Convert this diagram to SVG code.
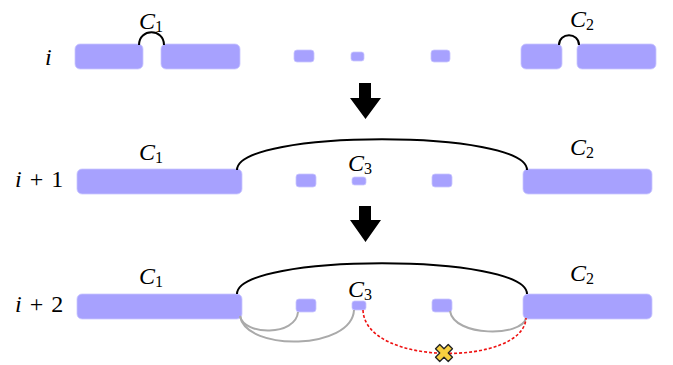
<svg xmlns="http://www.w3.org/2000/svg" width="673" height="365" viewBox="0 0 673 365">
<defs>
<style>
.blk{fill:#a7a1fe;stroke:#c9c6ff;stroke-width:0.8}
.t{font-family:"Liberation Serif","DejaVu Serif",serif;font-size:24px;fill:#000}
.it{font-style:italic}
.sub{font-size:16px}
.arc{fill:none;stroke:#000;stroke-width:2}
.gray{fill:none;stroke:#aaaaaa;stroke-width:2}
.red{fill:none;stroke:#ee1111;stroke-width:1.6;stroke-dasharray:3 2}
.arrow{fill:#000}
</style>
</defs>
<rect width="673" height="365" fill="#fff"/>

<!-- row labels -->
<g id="label-i"><text class="t it" x="45" y="65">i</text></g>
<g id="label-i1"><text class="t" x="15" y="187" word-spacing="2"><tspan class="it">i</tspan> + 1</text></g>
<g id="label-i2"><text class="t" x="15" y="312" word-spacing="2"><tspan class="it">i</tspan> + 2</text></g>

<!-- row i -->
<g id="r0-a"><rect class="blk" x="75" y="44" width="68" height="25" rx="5"/></g>
<g id="r0-b"><rect class="blk" x="161" y="44" width="79" height="25" rx="5"/></g>
<g id="r0-s1"><rect class="blk" x="294" y="50" width="20" height="12" rx="3"/></g>
<g id="r0-s2"><rect class="blk" x="351" y="52" width="13" height="9" rx="2.5"/></g>
<g id="r0-s3"><rect class="blk" x="431" y="50" width="19" height="12" rx="3"/></g>
<g id="r0-c"><rect class="blk" x="521" y="44" width="41" height="25" rx="5"/></g>
<g id="r0-d"><rect class="blk" x="577" y="44" width="79" height="25" rx="5"/></g>
<g id="r0-C1"><text class="t" x="139" y="29"><tspan class="it">C</tspan><tspan class="sub" dy="3">1</tspan></text></g>
<g id="r0-C2"><text class="t" x="570" y="27"><tspan class="it">C</tspan><tspan class="sub" dy="3">2</tspan></text></g>

<!-- row i+1 -->
<g id="r1-C1block"><rect class="blk" x="77" y="169" width="165" height="25" rx="5"/></g>
<g id="r1-s1"><rect class="blk" x="296" y="174" width="20" height="13" rx="3"/></g>
<g id="r1-C3block"><rect class="blk" x="352" y="177" width="14" height="8" rx="2.5"/></g>
<g id="r1-s3"><rect class="blk" x="432" y="174" width="20" height="13" rx="3"/></g>
<g id="r1-C2block"><rect class="blk" x="523" y="169" width="129" height="25" rx="5"/></g>
<g id="r1-C1"><text class="t" x="139" y="160"><tspan class="it">C</tspan><tspan class="sub" dy="3">1</tspan></text></g>
<g id="r1-C3"><text class="t" x="348" y="171"><tspan class="it">C</tspan><tspan class="sub" dy="3">3</tspan></text></g>
<g id="r1-C2"><text class="t" x="570" y="155"><tspan class="it">C</tspan><tspan class="sub" dy="3">2</tspan></text></g>

<!-- row i+2 -->
<g id="r2-C1block"><rect class="blk" x="77" y="294" width="165" height="25" rx="5"/></g>
<g id="r2-s1"><rect class="blk" x="296" y="299" width="20" height="13" rx="3"/></g>
<g id="r2-C3block"><rect class="blk" x="352" y="301" width="14" height="9" rx="2.5"/></g>
<g id="r2-s3"><rect class="blk" x="432" y="299" width="20" height="13" rx="3"/></g>
<g id="r2-C2block"><rect class="blk" x="523" y="294" width="129" height="25" rx="5"/></g>
<g id="r2-C1"><text class="t" x="139" y="284"><tspan class="it">C</tspan><tspan class="sub" dy="3">1</tspan></text></g>
<g id="r2-C3"><text class="t" x="348" y="297"><tspan class="it">C</tspan><tspan class="sub" dy="3">3</tspan></text></g>
<g id="r2-C2"><text class="t" x="570" y="281"><tspan class="it">C</tspan><tspan class="sub" dy="3">2</tspan></text></g>

<!-- big arrows -->
<g id="arrow1"><polygon class="arrow" points="359,83 371,83 371,98 381,98 365.5,119 350,98 359,98"/></g>
<g id="arrow2"><polygon class="arrow" points="359,206 371,206 371,220 381,220 365.5,242 350,220 359,220"/></g>

<!-- connectors -->
<g id="connectors">
<path class="arc" d="M139,45 C139,28 164,28 164,45"/>
<path class="arc" d="M559,45 C559,32 579,32 579,45"/>
<path class="arc" d="M237,170 C237,129 527,129 527,170"/>
<path class="arc" d="M237,294 C237,253 527,253 527,294"/>
<path class="gray" d="M240,316 C244,336 296,336 298,312"/>
<path class="gray" d="M240,316 C246,352 352,350 354,310"/>
<path class="gray" d="M450,311 C454,337 522,337 526,318"/>
<path class="red" d="M363,310 C365,367 524,366 526,318"/>
<g id="cross" transform="translate(444,353) rotate(45)">
<polygon points="-3,-9 3,-9 3,-3 9,-3 9,3 3,3 3,9 -3,9 -3,3 -9,3 -9,-3 -3,-3" fill="#f8d040" stroke="#222" stroke-width="1.3" stroke-linejoin="round"/>
</g>
</g>
</svg>
